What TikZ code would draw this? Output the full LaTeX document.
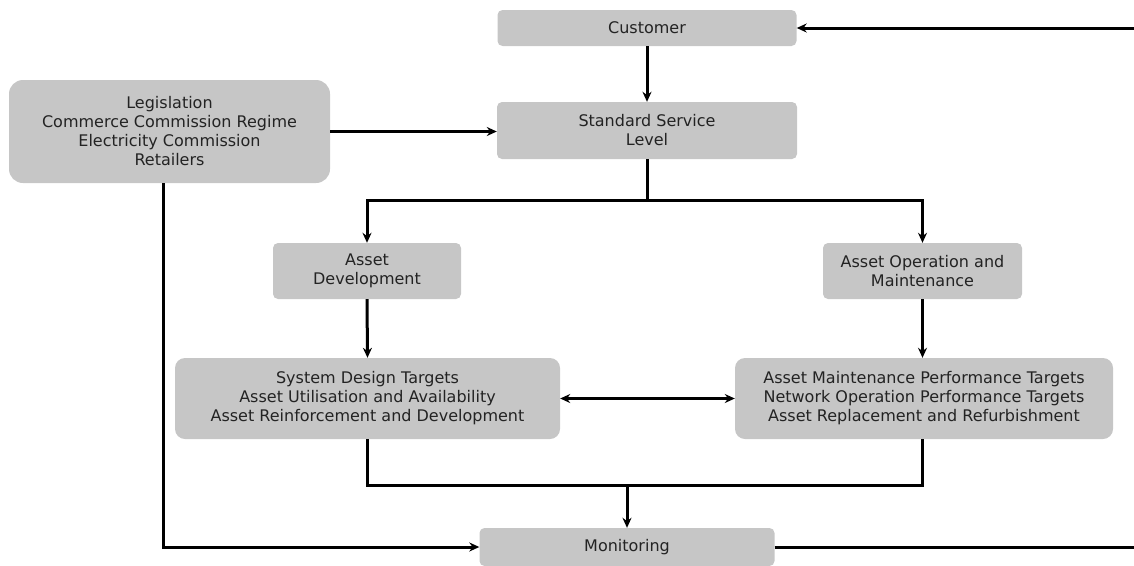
\documentclass[tikz,border=0pt]{standalone}
\usepackage{fontspec}
\setmainfont{DejaVu Sans}
\usetikzlibrary{arrows.meta}
\definecolor{boxgray}{RGB}{198,198,198}
\definecolor{txt}{RGB}{35,35,35}
\begin{document}
\begin{tikzpicture}[x=1pt,y=-1pt,
  box/.style={draw=none,fill=boxgray,rounded corners=5pt,inner sep=0pt,align=center,
    font=\fontsize{16}{19}\selectfont,text=txt},
  bigbox/.style={box,rounded corners=14pt},
  conn/.style={line width=3pt},
  arr/.style={conn,-{Stealth[length=10pt,width=9pt]}},
  darr/.style={conn,{Stealth[length=10pt,width=9pt]}-{Stealth[length=10pt,width=9pt]}}]
\useasboundingbox (0,0) rectangle (1134,565);
\node[box,minimum width=299pt,minimum height=36pt] (cust) at (647,28) {Customer};
\node[box,minimum width=300pt,minimum height=57pt] (ssl) at (647,130.5) {Standard Service\\Level};
\node[bigbox,minimum width=321pt,minimum height=103pt] (leg) at (169.5,131.5) {Legislation\\Commerce Commission Regime\\Electricity Commission\\Retailers};
\node[box,minimum width=188pt,minimum height=56pt] (ad) at (367,271) {Asset\\Development};
\node[box,minimum width=199pt,minimum height=56pt] (aom) at (922.5,271) {Asset Operation and\\Maintenance};
\node[bigbox,rounded corners=10pt,minimum width=385pt,minimum height=81pt] (sdt) at (367.5,398.5) {System Design Targets\\Asset Utilisation and Availability\\Asset Reinforcement and Development};
\node[bigbox,rounded corners=10pt,minimum width=378pt,minimum height=81pt] (amp) at (924,398.5) {Asset Maintenance Performance Targets\\Network Operation Performance Targets\\Asset Replacement and Refurbishment};
\node[box,minimum width=295pt,minimum height=38pt] (mon) at (627,547) {Monitoring};
\coordinate (rin) at (1134,28);
\coordinate (rout) at (1134,547);
\coordinate (split) at (647,200);
\coordinate (merge) at (627,485);
\draw[arr] (rin) -- (cust.east);
\draw[arr] (cust.south) -- (ssl.north);
\draw[arr] (leg.east) -- (leg.east -| ssl.west);
\draw[conn] (ssl.south) -- (split);
\draw[arr] (split) -| (ad.north);
\draw[arr] (split) -| (aom.north);
\draw[arr] (ad.south) -- (sdt.north);
\draw[arr] (aom.south) -- (aom.south |- amp.north);
\draw[darr] (sdt.east) -- (amp.west);
\draw[conn] (sdt.south) |- (merge) -| (aom.south |- amp.south);
\draw[arr] (merge) -- (mon.north);
\draw[arr] ([xshift=-6.5pt]leg.south) |- (mon.west);
\draw[conn] (mon.east) -- (rout);
\end{tikzpicture}
\end{document}
